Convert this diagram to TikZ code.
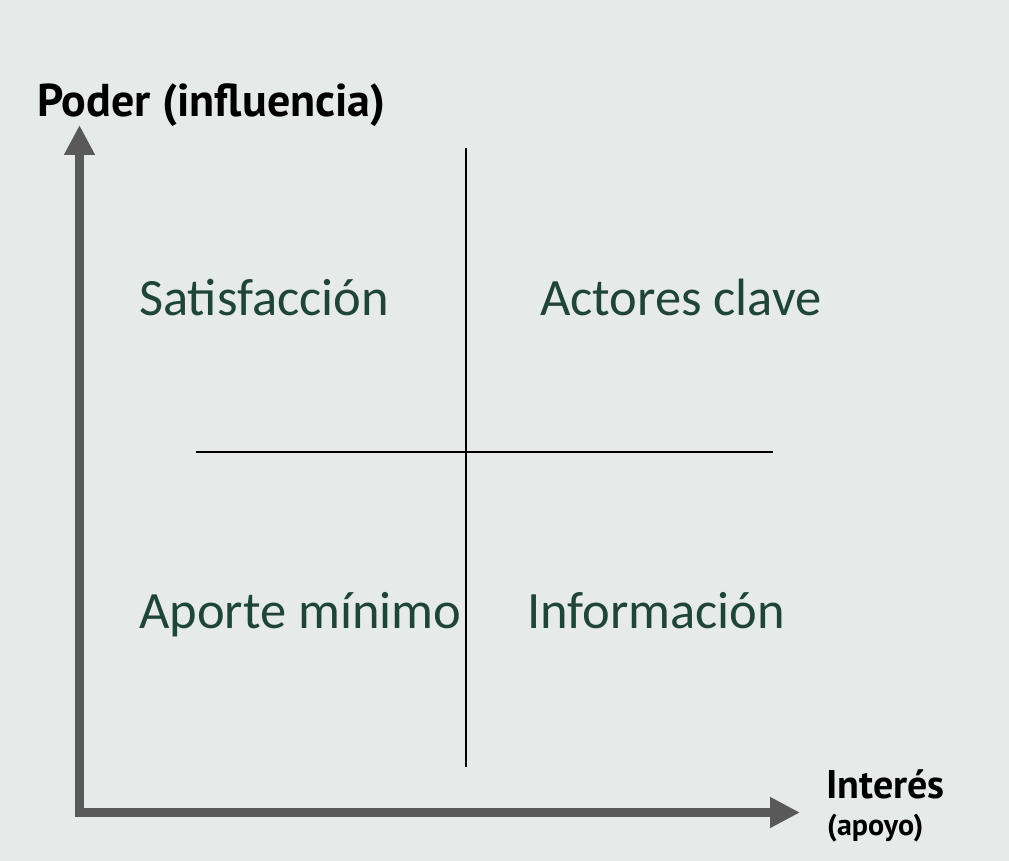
\documentclass[tikz,border=0pt]{standalone}
\usepackage{fontspec}
\setmainfont{Carlito}
\newfontfamily\lblfont{PT Sans}
\usetikzlibrary{arrows.meta}
\definecolor{bg}{HTML}{E6EAE8}
\definecolor{axisgray}{HTML}{595959}
\definecolor{quadgreen}{HTML}{1F4538}
\tikzset{
  axisline/.style={draw=axisgray, line width=9pt, line join=miter,
    arrows={Triangle[width=29pt,length=30pt]-Triangle[width=29pt,length=30pt]}},
  divider/.style={draw=black, line width=1.3pt},
  quad/.style={anchor=base west, inner sep=0pt, text=quadgreen, font=\fontsize{52.5}{60}\selectfont},
  axlabel/.style={anchor=base west, inner sep=0pt, text=black, font=\lblfont\bfseries}
}
\begin{document}
\begin{tikzpicture}[x=1pt,y=-1pt]
\fill[bg] (0,0) rectangle (1009,861);
\useasboundingbox (0,0) rectangle (1009,861);
\coordinate (ytip) at (79.5,125);
\coordinate (origin) at (79.5,812.5);
\coordinate (xtip) at (800,812.5);
\draw[axisline] (ytip) -- (origin) -- (xtip);
\coordinate (vtop) at (466,148);
\coordinate (vbot) at (466,767);
\coordinate (hleft) at (196,452);
\coordinate (hright) at (773,452);
\draw[divider] (vtop) -- (vbot);
\draw[divider] (hleft) -- (hright);
\node[quad] (sat) at (139,315) {Satisfacción};
\node[quad] (act) at (540,315) {Actores clave};
\node[quad] (apo) at (139,628) {Aporte mínimo};
\node[quad] (inf) at (527,628) {Información};
\node[axlabel, font=\lblfont\bfseries\fontsize{46}{50}\selectfont] (poder) at (37,117) {Poder (influencia)};
\node[axlabel, font=\lblfont\bfseries\fontsize{40}{44}\selectfont] (interes) at (826,798) {Interés};
\node[axlabel, font=\lblfont\bfseries\fontsize{30}{34}\selectfont] (apoyo) at (827,835) {(apoyo)};
\end{tikzpicture}
\end{document}
